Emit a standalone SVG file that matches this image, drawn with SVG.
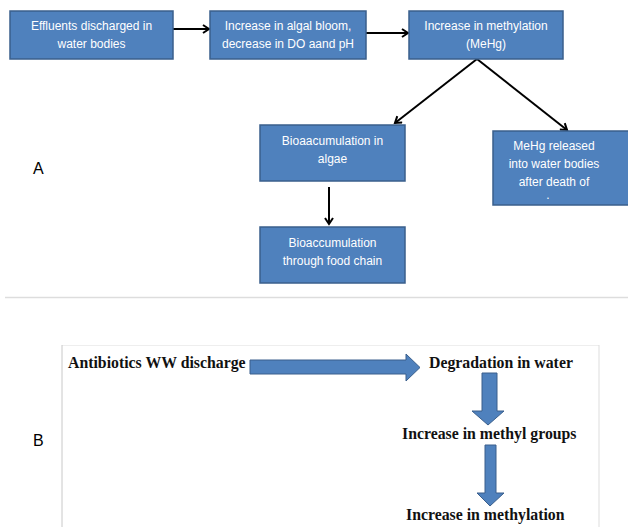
<svg xmlns="http://www.w3.org/2000/svg" width="628" height="527" viewBox="0 0 628 527">
<style>
.box{fill:#4F81BD;stroke:#3A5F8C;stroke-width:1.5}
.bt{font-family:"Liberation Sans",Arial,sans-serif;font-size:12px;fill:#FFFFFF;text-anchor:middle}
.con{stroke:#000;stroke-width:2;fill:none}
.lbl{font-family:"Liberation Sans",Arial,sans-serif;font-size:16px;fill:#000}
.bb{font-family:"Liberation Serif","Times New Roman",serif;font-size:15.8px;font-weight:bold;fill:#111}
.fat{fill:#4F81BD;stroke:#3A5F8C;stroke-width:1}
</style>
<defs>
<marker id="ah" markerWidth="10" markerHeight="10" refX="8" refY="5" orient="auto" markerUnits="userSpaceOnUse">
<polyline points="2,1 8,5 2,9" fill="none" stroke="#000" stroke-width="2"/>
</marker>
</defs>
<rect width="628" height="527" fill="#FFFFFF"/>

<g id="connectors">
<line class="con" x1="173" y1="29" x2="209" y2="29" marker-end="url(#ah)"/>
<line class="con" x1="366" y1="33" x2="408" y2="33" marker-end="url(#ah)"/>
<line class="con" x1="477" y1="59" x2="395" y2="123" marker-end="url(#ah)"/>
<line class="con" x1="477" y1="59" x2="567" y2="130" marker-end="url(#ah)"/>
<line class="con" x1="329" y1="187" x2="329" y2="224" marker-end="url(#ah)"/>
<polygon class="fat" points="250,360 406,360 406,354 420,367.5 406,381 406,374 250,374"/>
<polygon class="fat" points="482,373 497,373 497,411 504,411 488,425 472,411 482,411"/>
<polygon class="fat" points="485,445 496,445 496,493 504,493 490,506 477,493 485,493"/>
</g>

<g id="n1">
<rect class="box" x="10" y="11" width="163" height="48"/>
<text class="bt" x="91.5" y="30">Effluents discharged in</text>
<text class="bt" x="91.5" y="48">water bodies</text>
</g>
<g id="n2">
<rect class="box" x="210" y="11" width="156" height="48"/>
<text class="bt" x="288" y="30">Increase in algal bloom,</text>
<text class="bt" x="288" y="48">decrease in DO aand pH</text>
</g>
<g id="n3">
<rect class="box" x="409" y="11" width="154" height="48"/>
<text class="bt" x="486" y="30">Increase in methylation</text>
<text class="bt" x="486" y="48">(MeHg)</text>
</g>
<g id="n4">
<rect class="box" x="260" y="125" width="145" height="56"/>
<text class="bt" x="332.5" y="145">Bioaacumulation in</text>
<text class="bt" x="332.5" y="163">algae</text>
</g>
<g id="n5">
<rect class="box" x="493" y="131" width="140" height="74"/>
<text class="bt" x="554" y="150">MeHg released</text>
<text class="bt" x="554" y="168">into water bodies</text>
<text class="bt" x="554" y="186">after death of</text>
<text class="bt" x="548" y="199">.</text>
</g>
<g id="n6">
<rect class="box" x="260" y="227" width="145" height="56"/>
<text class="bt" x="332.5" y="247">Bioaccumulation</text>
<text class="bt" x="332.5" y="265">through food chain</text>
</g>

<text class="lbl" x="33" y="174">A</text>
<line x1="5" y1="297.5" x2="628" y2="297.5" stroke="#DDDDDD" stroke-width="1.5"/>

<g id="frame">
<line x1="62" y1="345.5" x2="599" y2="345.5" stroke="#EEEEEE" stroke-width="1"/>
<line x1="62" y1="345" x2="62" y2="527" stroke="#C8C8C8" stroke-width="1"/>
<line x1="599" y1="345" x2="599" y2="527" stroke="#DDDDDD" stroke-width="1"/>
</g>
<text class="lbl" x="33" y="446">B</text>

<g id="b1"><text class="bb" x="68" y="368">Antibiotics WW discharge</text></g>
<g id="b2"><text class="bb" x="429" y="368">Degradation in water</text></g>
<g id="b3"><text class="bb" x="402" y="439">Increase in methyl groups</text></g>
<g id="b4"><text class="bb" x="406" y="520">Increase in methylation</text></g>
</svg>
